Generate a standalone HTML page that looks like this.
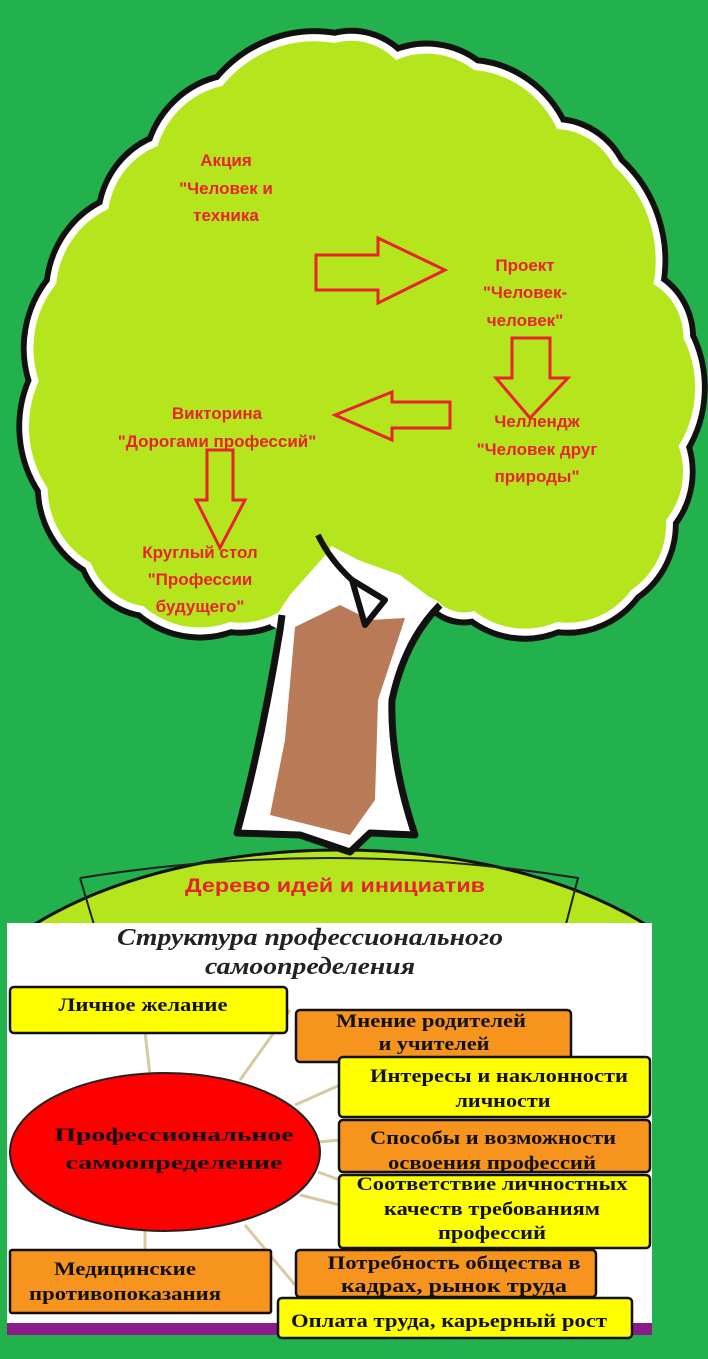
<!DOCTYPE html>
<html><head><meta charset="utf-8"><style>
html,body{margin:0;padding:0;background:#22b14c;}
svg{display:block}
.t{font-family:"Liberation Sans","DejaVu Sans",sans-serif;font-weight:bold;fill:#e8232a;font-size:17px;text-anchor:middle}
.s{font-family:"Liberation Serif","DejaVu Serif",serif;font-weight:bold;fill:#111;text-anchor:middle;font-size:19px}
</style></head><body>
<svg width="708" height="1359" viewBox="0 0 708 1359" xmlns="http://www.w3.org/2000/svg">
<defs>
<clipPath id="hc"><rect x="0" y="0" width="708" height="925"/></clipPath>
<path id="cano" d="M99,203 A81,81 0 0 1 150,140 A90,90 0 0 1 217,80 A125,125 0 0 1 334,37 A65,65 0 0 1 397,54 A82,82 0 0 1 478,64 A104,104 0 0 1 564,123 A70,70 0 0 1 623,160 A125,125 0 0 1 664,278 A62,62 0 0 1 695,332 A108,108 0 0 1 690,440 A75,75 0 0 1 677,514 A79,79 0 0 1 641,584 A83,83 0 0 1 564,616 A87,87 0 0 1 478,605 A39,39 0 0 1 440,595 L330,540 L300,585 A81,81 0 0 1 225,616 A91,91 0 0 1 135,600 A69,69 0 0 1 81,557 A87,87 0 0 1 36,482 A107,107 0 0 1 27,375 A99,99 0 0 1 45,278 A92,92 0 0 1 99,203 Z"/>
</defs>
<rect width="708" height="1359" fill="#22b14c"/>
<!-- hill -->
<g clip-path="url(#hc)">
<ellipse cx="340" cy="1060" rx="400" ry="210" fill="#b5e61d" stroke="#111" stroke-width="3"/>
<path d="M80,878 Q330,838 578,878 L565,928 M80,878 L95,928" fill="none" stroke="#222" stroke-width="2"/>
</g>
<text x="335" y="892" font-family="Liberation Sans, DejaVu Sans, sans-serif" font-weight="bold" font-size="19" fill="#e8232a" text-anchor="middle" textLength="300" lengthAdjust="spacingAndGlyphs">Дерево идей и инициатив</text>
<!-- canopy -->
<g transform="translate(365,336) scale(0.965,1) translate(-365,-330)">
<use href="#cano" fill="none" stroke="#111" stroke-width="26" stroke-linejoin="round"/>
<use href="#cano" fill="none" stroke="#fff" stroke-width="14" stroke-linejoin="round"/>
<use href="#cano" fill="#b5e61d"/>
</g>
<!-- trunk -->
<path d="M270,625 L280,630 Q262,740 237,833 L300,835 L350,852 L370,833 L415,835 Q390,760 392,700 Q405,640 440,605 L400,575 L330,550 L290,595 Z" fill="#fff"/>
<path d="M282,615 L280,630 Q262,740 237,833 L300,835 L350,852 L370,833 L415,835 Q390,760 392,700 Q405,640 440,605" fill="none" stroke="#111" stroke-width="7" stroke-linejoin="round"/>
<path d="M295,627 L340,605 L370,620 L405,618 L378,700 L375,800 L350,835 L330,830 L270,815 L285,740 Z" fill="#b97a57"/>
<path d="M318,535 Q330,560 352,580 L365,625 L385,600 L352,580" fill="none" stroke="#111" stroke-width="6" stroke-linejoin="round"/>
<!-- texts -->
<text class="t" x="226" y="166">Акция</text>
<text class="t" x="226" y="194">"Человек и</text>
<text class="t" x="226" y="221">техника</text>
<text class="t" x="525" y="271">Проект</text>
<text class="t" x="525" y="298">"Человек-</text>
<text class="t" x="525" y="326">человек"</text>
<text class="t" x="537" y="427">Челлендж</text>
<text class="t" x="537" y="455">"Человек друг</text>
<text class="t" x="537" y="482">природы"</text>
<text class="t" x="217" y="419">Викторина</text>
<text class="t" x="217" y="447">"Дорогами профессий"</text>
<text class="t" x="200" y="558">Круглый стол</text>
<text class="t" x="200" y="585">"Профессии</text>
<text class="t" x="200" y="612">будущего"</text>
<!-- arrows -->
<g fill="none" stroke="#e8232a" stroke-width="3">
<polygon points="316,255 378,255 378,238 445,270 378,303 378,290 316,290"/>
<polygon points="512,338 550,338 550,378 568,378 530,418 496,378 512,378"/>
<polygon points="450,402 392,402 392,392 335,415 392,440 392,428 450,428"/>
<polygon points="207,450 233,450 233,500 245,500 220,548 196,500 207,500"/>
</g>
<!-- white panel -->
<rect x="7" y="923" width="645" height="412" fill="#fff"/>
<rect x="7" y="1323" width="645" height="12" fill="#8b1a8b"/>
<text x="310" y="945" font-family="Liberation Serif, serif" font-style="italic" font-weight="bold" font-size="24" fill="#222" text-anchor="middle" textLength="386" lengthAdjust="spacingAndGlyphs">Структура профессионального</text>
<text x="310" y="974" font-family="Liberation Serif, serif" font-style="italic" font-weight="bold" font-size="24" fill="#222" text-anchor="middle" textLength="210" lengthAdjust="spacingAndGlyphs">самоопределения</text>
<!-- connectors -->
<g stroke="#d8c9a0" stroke-width="3">
<line x1="145" y1="1032" x2="150" y2="1075"/>
<line x1="290" y1="1010" x2="240" y2="1080"/>
<line x1="340" y1="1085" x2="295" y2="1105"/>
<line x1="340" y1="1140" x2="318" y2="1142"/>
<line x1="340" y1="1180" x2="318" y2="1172"/>
<line x1="340" y1="1205" x2="300" y2="1195"/>
<line x1="295" y1="1285" x2="245" y2="1225"/>
<line x1="145" y1="1230" x2="145" y2="1250"/>
</g>
<ellipse cx="165" cy="1152" rx="155" ry="79" fill="#f00" stroke="#222" stroke-width="2"/>
<text class="s" x="174" y="1141" font-size="26" textLength="239" lengthAdjust="spacingAndGlyphs">Профессиональное</text>
<text class="s" x="174" y="1169" font-size="26" textLength="217" lengthAdjust="spacingAndGlyphs">самоопределение</text>
<g stroke="#111" stroke-width="2.5">
<rect x="10" y="987" width="277" height="46" rx="4" fill="#ffff00"/>
<rect x="296" y="1010" width="275" height="52" rx="4" fill="#f7941d"/>
<rect x="339" y="1057" width="311" height="60" rx="4" fill="#ffff00"/>
<rect x="339" y="1120" width="311" height="52" rx="4" fill="#f7941d"/>
<rect x="339" y="1175" width="311" height="73" rx="4" fill="#ffff00"/>
<rect x="10" y="1250" width="261" height="63" rx="2" fill="#f7941d"/>
<rect x="296" y="1250" width="300" height="47" rx="4" fill="#f7941d"/>
<rect x="278" y="1298" width="354" height="40" rx="4" fill="#ffff00"/>
</g>
<text class="s" x="143" y="1011" textLength="169" lengthAdjust="spacingAndGlyphs">Личное желание</text>
<text class="s" x="431" y="1027" textLength="190" lengthAdjust="spacingAndGlyphs">Мнение родителей</text>
<text class="s" x="434" y="1050" textLength="111" lengthAdjust="spacingAndGlyphs">и учителей</text>
<text class="s" x="499" y="1082" textLength="258" lengthAdjust="spacingAndGlyphs">Интересы и наклонности</text>
<text class="s" x="503" y="1107" textLength="95" lengthAdjust="spacingAndGlyphs">личности</text>
<text class="s" x="493" y="1144" textLength="246" lengthAdjust="spacingAndGlyphs">Способы и возможности</text>
<text class="s" x="492" y="1169" textLength="208" lengthAdjust="spacingAndGlyphs">освоения профессий</text>
<text class="s" x="492" y="1190" textLength="271" lengthAdjust="spacingAndGlyphs">Соответствие личностных</text>
<text class="s" x="492" y="1215" textLength="216" lengthAdjust="spacingAndGlyphs">качеств требованиям</text>
<text class="s" x="492" y="1239" textLength="108" lengthAdjust="spacingAndGlyphs">профессий</text>
<text class="s" x="125" y="1275" textLength="142" lengthAdjust="spacingAndGlyphs">Медицинские</text>
<text class="s" x="125" y="1300" textLength="192" lengthAdjust="spacingAndGlyphs">противопоказания</text>
<text class="s" x="454" y="1269" textLength="253" lengthAdjust="spacingAndGlyphs">Потребность общества в</text>
<text class="s" x="454" y="1292" textLength="226" lengthAdjust="spacingAndGlyphs">кадрах, рынок  труда</text>
<text class="s" x="449" y="1327" textLength="316" lengthAdjust="spacingAndGlyphs">Оплата труда, карьерный рост</text>
</svg>
</body></html>
